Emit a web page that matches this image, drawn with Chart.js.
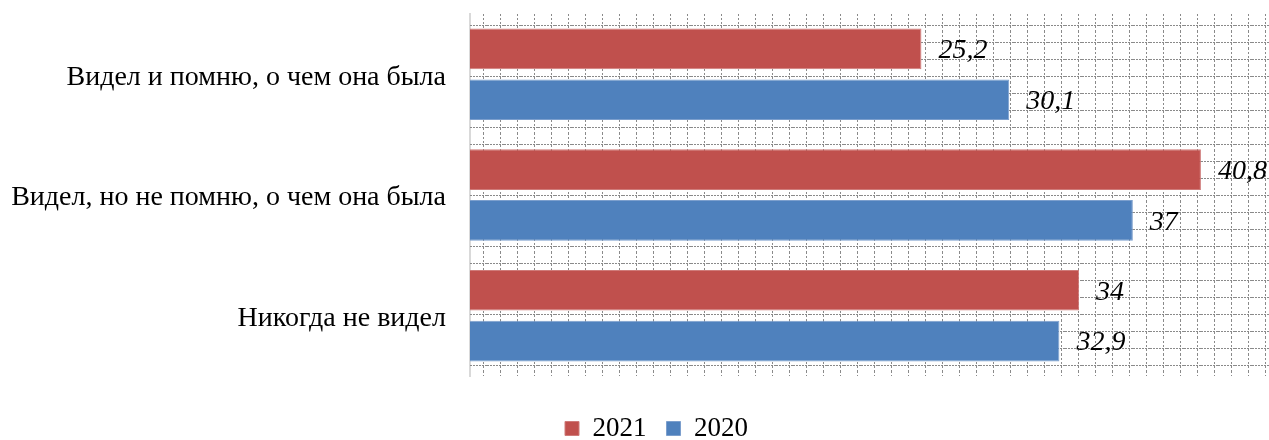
<!DOCTYPE html>
<html>
<head>
<meta charset="utf-8">
<script src="https://cdn.jsdelivr.net/npm/chart.js@4.4.0/dist/chart.umd.min.js"></script>
<style>
  html, body { margin: 0; padding: 0; background: #fff; }
  #wrap { width: 1269px; height: 440px; }
</style>
</head>
<body>
<div id="wrap"><canvas id="myChart"></canvas></div>
<script>
const categories = [
    'Видел и помню, о чем она была',
    'Видел, но не помню, о чем она была',
    'Никогда не видел'
];
const years = ['2021', '2020'];
const values2021 = [25.2, 40.8, 34];
const values2020 = [30.1, 37, 32.9];

const serif = "'Liberation Serif', 'Times New Roman', serif";

// dotted grid fill behind the bars
function makeGridPattern(ctx) {
    const cell = 17;
    const pc = document.createElement('canvas');
    pc.width = cell;
    pc.height = cell;
    const p = pc.getContext('2d');
    p.fillStyle = '#8a8a8a';
    for (let x = 0; x < cell; x += 3) {
        p.fillRect(x, 11, 2, 1);
    }
    for (let y = 0; y < cell; y += 4) {
        p.fillRect(13, y, 1, 2);
    }
    return ctx.createPattern(pc, 'repeat');
}

const gridFill = {
    id: 'gridFill',
    beforeDatasetsDraw(chart) {
        const {ctx, chartArea} = chart;
        ctx.save();
        ctx.translate(chartArea.left, chartArea.top);
        ctx.fillStyle = makeGridPattern(ctx);
        ctx.fillRect(0, 0, chartArea.right - chartArea.left, chartArea.bottom - chartArea.top);
        ctx.restore();
    }
};

// italic value next to each bar end
const valueLabels = {
    id: 'valueLabels',
    afterDatasetsDraw(chart) {
        const ctx = chart.ctx;
        ctx.save();
        ctx.font = 'italic 28px ' + serif;
        ctx.fillStyle = '#000';
        ctx.textBaseline = 'middle';
        ctx.textAlign = 'left';
        chart.data.datasets.forEach((ds, i) => {
            chart.getDatasetMeta(i).data.forEach((bar, j) => {
                const txt = String(ds.data[j]).replace('.', ',');
                ctx.fillText(txt, bar.x + 17, bar.y + 2);
            });
        });
        ctx.restore();
    }
};

// legend sits a little right of the page centre
const legendShift = {
    id: 'legendShift',
    afterLayout(chart) {
        if (chart.legend) chart.legend.left += 44;
    }
};

const ctx = document.getElementById('myChart').getContext('2d');
const myChart = new Chart(ctx, {
    type: 'bar',
    data: {
        labels: categories,
        datasets: [{
            label: years[0],
            data: values2021,
            backgroundColor: '#c0504d',
            borderColor: '#cf7b79',
            borderWidth: 1
        }, {
            label: years[1],
            data: values2020,
            backgroundColor: '#4f81bd',
            borderColor: '#7c9fcd',
            borderWidth: 1
        }]
    },
    options: {
        indexAxis: 'y',
        responsive: true,
        maintainAspectRatio: false,
        animation: false,
        categoryPercentage: 0.843,
        barPercentage: 0.8,
        layout: { padding: { top: 14, left: 0, right: 0, bottom: -12 } },
        scales: {
            x: {
                min: 0,
                max: 44.6,
                ticks: { display: false },
                grid: { display: false },
                border: { display: false },
                afterFit(scale) {
                    scale.height = 19;
                    scale.paddingLeft = 0;
                    scale.paddingRight = 0;
                }
            },
            y: {
                grid: { display: false },
                border: { display: true, color: '#d9d9d9', width: 2 },
                ticks: {
                    color: '#000',
                    padding: 16,
                    labelOffset: 3,
                    font: { family: serif, size: 28 }
                },
                afterFit(scale) {
                    scale.width = 470;
                    scale.paddingTop = 0;
                    scale.paddingBottom = 0;
                }
            }
        },
        plugins: {
            legend: {
                position: 'bottom',
                labels: {
                    color: '#000',
                    boxWidth: 14,
                    boxHeight: 14,
                    padding: 20,
                    font: { family: serif, size: 27, lineHeight: 1 }
                }
            },
            tooltip: { enabled: false }
        }
    },
    plugins: [gridFill, valueLabels, legendShift]
});
</script>
</body>
</html>
